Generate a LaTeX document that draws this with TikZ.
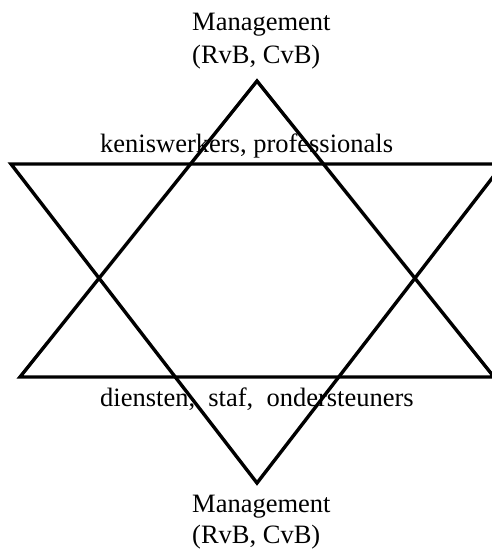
\documentclass[tikz,border=0pt]{standalone}
\usepackage{fontspec}
\setmainfont{Liberation Serif}
\begin{document}
\begin{tikzpicture}[x=1pt,y=-1pt,
  star/.style={line width=3.4pt,line join=miter},
  lbl/.style={inner sep=0pt,anchor=base west,font=\fontsize{26.5}{32}\selectfont}]
\useasboundingbox (0,0) rectangle (492,552);
\begin{scope}
\clip (0,0) rectangle (492,552);
% upward triangle
\coordinate (ua) at (257,81);
\coordinate (ul) at (20,377);
\coordinate (ur) at (494,377);
\draw[star] (ua) -- (ul) -- (ur) -- cycle;
% downward triangle
\coordinate (dl) at (11,164);
\coordinate (dr) at (503,164);
\coordinate (da) at (257,483);
\draw[star] (dl) -- (dr) -- (da) -- cycle;
\end{scope}
% labels
\node[lbl] (mtop) at (192,30) {Management};
\node[lbl] (rtop) at (192,63) {(RvB, CvB)};
\node[lbl] (kw) at (100,152) {keniswerkers, professionals};
\node[lbl] (ds) at (100,406) {diensten,\ \ staf,\ \ ondersteuners};
\node[lbl] (mbot) at (192,512) {Management};
\node[lbl] (rbot) at (192,543) {(RvB, CvB)};
\end{tikzpicture}
\end{document}
